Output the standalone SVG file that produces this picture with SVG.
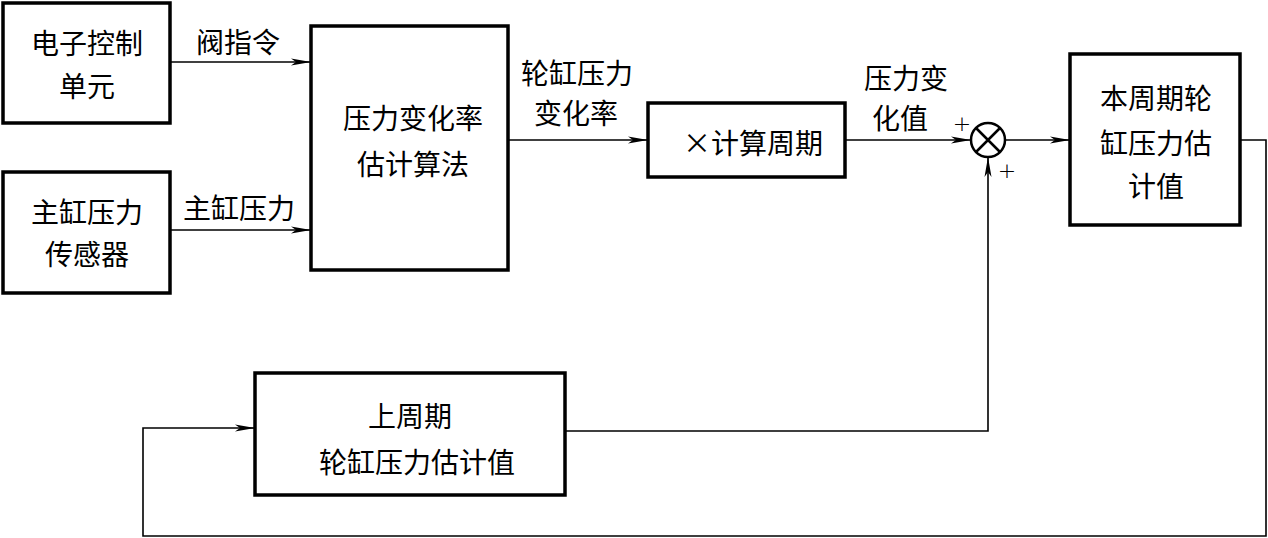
<svg xmlns="http://www.w3.org/2000/svg" width="1268" height="538" viewBox="0 0 1268 538">
<style>
.box{fill:#fff;stroke:#000;stroke-width:3.5}
.t{font-family:"Noto Sans CJK SC","Noto Sans",sans-serif;font-size:28px;fill:#000;text-anchor:middle;dominant-baseline:central}
.p{font-family:"DejaVu Sans",sans-serif;font-size:22px;font-weight:200;fill:#000;text-anchor:middle;dominant-baseline:central}
.ln{fill:none;stroke:#000;stroke-width:1.6}
</style>
<defs>
<marker id="ah" viewBox="0 0 20 10" refX="20" refY="5" markerWidth="20" markerHeight="10" markerUnits="userSpaceOnUse" orient="auto">
<path d="M0,1.5 L20,5 L0,8.5 L5,5 Z" fill="#000"/>
</marker>
</defs>
<rect width="1268" height="538" fill="#fff"/>
<g id="connectors">
<path class="ln" d="M170,62 H311" marker-end="url(#ah)"/>
<path class="ln" d="M170,230 H311" marker-end="url(#ah)"/>
<path class="ln" d="M508,140 H648" marker-end="url(#ah)"/>
<path class="ln" d="M845,140 H971" marker-end="url(#ah)"/>
<path class="ln" d="M1005,140 H1070" marker-end="url(#ah)"/>
<path class="ln" d="M1240,140 H1266 V536 H143 V428 H255" marker-end="url(#ah)"/>
<path class="ln" d="M565,431 H988 V157" marker-end="url(#ah)"/>
</g>
<g id="sum">
<circle cx="988" cy="140" r="17" fill="#fff" stroke="#000" stroke-width="2.5"/>
<path d="M976,128 L1000,152 M1000,128 L976,152" stroke="#000" stroke-width="2.5"/>
<text class="p" x="962" y="123">+</text>
<text class="p" x="1007" y="170">+</text>
</g>
<g id="ecu">
<rect class="box" x="3" y="3" width="167" height="120"/>
<text class="t" x="87" y="42">电子控制</text>
<text class="t" x="87" y="85">单元</text>
</g>
<g id="sensor">
<rect class="box" x="3" y="172" width="167" height="121"/>
<text class="t" x="87" y="211">主缸压力</text>
<text class="t" x="87" y="253">传感器</text>
</g>
<g id="rate">
<rect class="box" x="311" y="26" width="197" height="244"/>
<text class="t" x="413" y="117">压力变化率</text>
<text class="t" x="413" y="163">估计算法</text>
</g>
<g id="mult">
<rect class="box" x="648" y="103" width="197" height="74"/>
<text class="t" x="753" y="142">×计算周期</text>
</g>
<g id="current">
<rect class="box" x="1070" y="54" width="170" height="171"/>
<text class="t" x="1156" y="97">本周期轮</text>
<text class="t" x="1156" y="142">缸压力估</text>
<text class="t" x="1156" y="185">计值</text>
</g>
<g id="previous">
<rect class="box" x="255" y="373" width="310" height="122"/>
<text class="t" x="410" y="415">上周期</text>
<text class="t" x="417" y="461">轮缸压力估计值</text>
</g>
<g id="labels">
<text class="t" x="238" y="41">阀指令</text>
<text class="t" x="239" y="207">主缸压力</text>
<text class="t" x="577" y="72">轮缸压力</text>
<text class="t" x="576" y="112">变化率</text>
<text class="t" x="906" y="77">压力变</text>
<text class="t" x="900" y="117">化值</text>
</g>
</svg>
